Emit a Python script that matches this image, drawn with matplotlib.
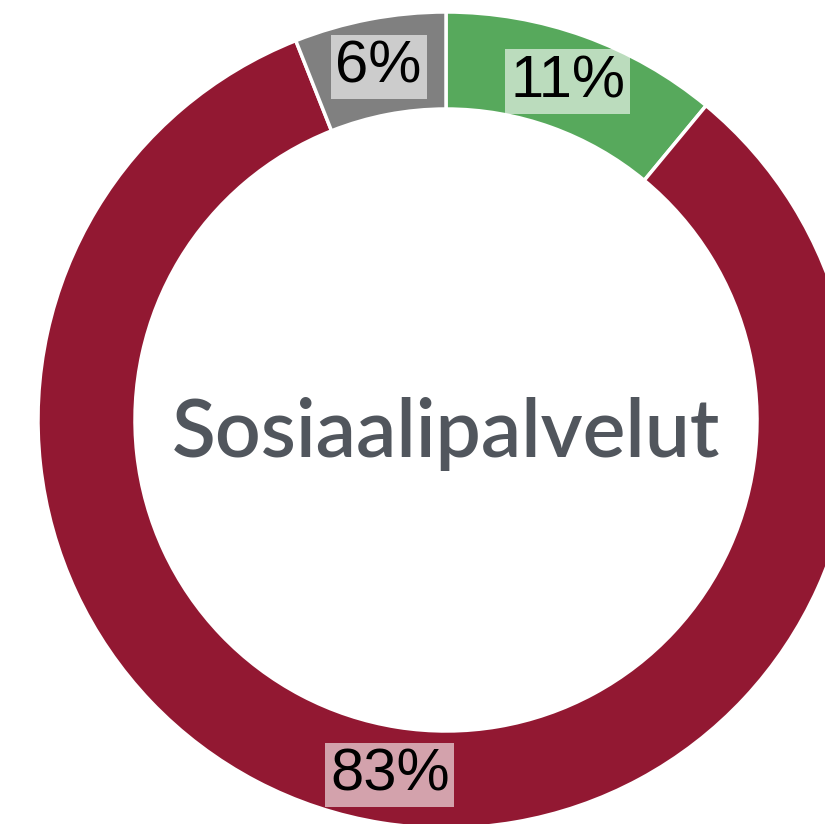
import numpy as np
import matplotlib.pyplot as plt

# share of responses per category
labels = ['Green', 'Red', 'Gray']
values = [11, 83, 6]
colors = ['#57a95c', '#921832', '#808080']
center_title = 'Sosiaalipalvelut'

fig = plt.figure(figsize=(8.25, 8.24), dpi=100)
ax = fig.add_axes([0, 0, 1, 1])

# work in pixel units so the cropped donut lands where it does in the original
cx, cy = 446, 824 - 420
outer = 408
ring = 97

wedges, _ = ax.pie(values, radius=outer, center=(cx, cy), startangle=90,
                   counterclock=False, colors=colors,
                   wedgeprops=dict(width=ring, edgecolor='white', linewidth=2.5))

# percentage labels in the middle of the ring
mid = outer - ring / 2
for w, v in zip(wedges, values):
    ang = np.deg2rad((w.theta1 + w.theta2) / 2)
    x = cx + mid * np.cos(ang)
    y = cy + mid * np.sin(ang)
    ax.text(x, y, f'{v}%', ha='center', va='center', fontsize=43,
            family='Liberation Sans', color='black',
            bbox=dict(boxstyle='square,pad=0.08', facecolor='white',
                      alpha=0.6, edgecolor='none'))

ax.text(cx, 824 - 457, center_title, ha='center', va='baseline',
        fontsize=58, family='Lato', weight='semibold', color='#51565d')

ax.set_xlim(0, 825)
ax.set_ylim(0, 824)
ax.set_aspect('equal')
ax.axis('off')

fig.savefig('out.png', dpi=100)
